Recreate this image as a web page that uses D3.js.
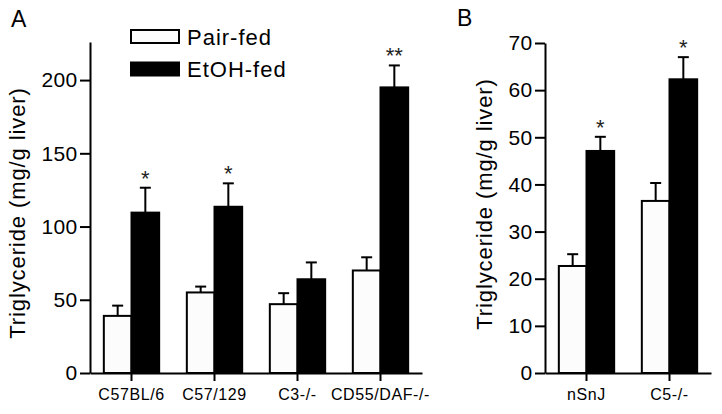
<!DOCTYPE html>
<html>
<head>
<meta charset="utf-8">
<script src="https://cdn.jsdelivr.net/npm/d3@7"></script>
<style>
  body { margin: 0; background: #fff; }
  svg { display: block; font-family: "Liberation Sans", Arial, sans-serif; }
  .axis path, .axis line { stroke: #000; stroke-width: 2; }
  .axis text { fill: #000; font-family: "Liberation Sans", Arial, sans-serif; }
</style>
</head>
<body>
<svg id="chart" width="722" height="414"></svg>
<script>
"use strict";

const keys = ["Pair-fed", "EtOH-fed"];

// Panel A
const strainsA = ["C57BL/6", "C57/129", "C3-/-", "CD55/DAF-/-"];
const pairA = [39, 55, 47, 70];
const pairErrA = [7, 4, 7.5, 9];
const etohA = [109.5, 113.5, 64, 195];
const etohErrA = [17, 16, 11.5, 15];
const starsA = ["*", "*", "", "**"];
const ticksA = [0, 50, 100, 150, 200];

// Panel B
const strainsB = ["nSnJ", "C5-/-"];
const pairB = [22.7, 36.5];
const pairErrB = [2.5, 3.8];
const etohB = [47.1, 62.3];
const etohErrB = [3, 4.7];
const starsB = ["*", "*"];
const ticksB = [0, 10, 20, 30, 40, 50, 60, 70];

const svg = d3.select("#chart");
const fills = { "Pair-fed": "#fcfcfc", "EtOH-fed": "#000" };

function drawPanel(arg) {
  const { strains, pair, pairErr, etoh, etohErr, stars, ticks, yMax, xRange, yRange, titleX, titleY } = arg;

  const rows = strains.map((s, i) => ({
    strain: s,
    values: [
      { key: keys[0], v: pair[i], e: pairErr[i] },
      { key: keys[1], v: etoh[i], e: etohErr[i] },
    ],
    star: stars[i],
  }));

  const x0 = d3.scaleBand().domain(strains).range(xRange);
  const x1 = d3.scaleBand().domain(keys).range([0, x0.bandwidth()]).paddingOuter(0.5);
  const y = d3.scaleLinear().domain([0, yMax]).range(yRange);

  const g = svg.append("g");

  const groups = g.selectAll(".grp")
    .data(rows)
    .join("g")
    .attr("class", "grp")
    .attr("transform", (d) => `translate(${x0(d.strain)},0)`);

  // error bars first so bar outline sits on top
  groups.selectAll(".err")
    .data((d) => d.values)
    .join("g")
    .attr("class", "err")
    .each(function (d) {
      const cx = x1(d.key) + x1.bandwidth() / 2;
      const el = d3.select(this);
      el.append("line")
        .attr("x1", cx).attr("x2", cx)
        .attr("y1", y(d.v)).attr("y2", y(d.v + d.e))
        .attr("stroke", "#000").attr("stroke-width", 2);
      el.append("line")
        .attr("x1", cx - 5.5).attr("x2", cx + 5.5)
        .attr("y1", y(d.v + d.e)).attr("y2", y(d.v + d.e))
        .attr("stroke", "#000").attr("stroke-width", 2);
    });

  groups.selectAll("rect")
    .data((d) => d.values)
    .join("rect")
    .attr("x", (d) => x1(d.key))
    .attr("width", x1.bandwidth())
    .attr("y", (d) => y(d.v))
    .attr("height", (d) => y(0) - y(d.v))
    .attr("fill", (d) => fills[d.key])
    .attr("stroke", "#000")
    .attr("stroke-width", 2);

  groups.append("text")
    .attr("x", x1(keys[1]) + x1.bandwidth() / 2)
    .attr("y", (d) => y(d.values[1].v + d.values[1].e) - 2)
    .attr("text-anchor", "middle")
    .attr("font-size", 22)
    .attr("fill", "#222")
    .text((d) => d.star);

  const yAxis = g.append("g")
    .attr("class", "axis")
    .attr("transform", `translate(${xRange[0]},0)`)
    .call(d3.axisLeft(y).tickValues(ticks).tickSize(10).tickPadding(2.5).tickSizeOuter(0));
  yAxis.selectAll("text").attr("font-size", 21).attr("letter-spacing", 0.3);

  const xAxis = g.append("g")
    .attr("class", "axis")
    .attr("transform", `translate(0,${yRange[0]})`)
    .call(d3.axisBottom(x0).tickSize(8).tickPadding(8).tickSizeOuter(0));
  xAxis.selectAll("text").attr("font-size", 16).attr("letter-spacing", 0.6);

  g.append("text")
    .attr("transform", `translate(${titleX},${titleY}) rotate(-90)`)
    .attr("text-anchor", "middle")
    .attr("font-size", 22)
    .attr("letter-spacing", 0.9)
    .text("Triglyceride (mg/g liver)");
}

drawPanel({
  strains: strainsA, pair: pairA, pairErr: pairErrA, etoh: etohA, etohErr: etohErrA,
  stars: starsA, ticks: ticksA, yMax: 226,
  xRange: [90, 422], yRange: [373, 42], titleX: 25, titleY: 213,
});

drawPanel({
  strains: strainsB, pair: pairB, pairErr: pairErrB, etoh: etohB, etohErr: etohErrB,
  stars: starsB, ticks: ticksB, yMax: 70,
  xRange: [545, 711], yRange: [373, 43], titleX: 492, titleY: 204,
});

// panel letters
svg.append("text").attr("x", 11).attr("y", 27).attr("font-size", 23).text("A");
svg.append("text").attr("x", 457).attr("y", 26).attr("font-size", 23).text("B");

// legend
const legend = svg.append("g").selectAll("g")
  .data(keys)
  .join("g")
  .attr("transform", (d, i) => `translate(131,${30 + i * 32.5})`);
legend.append("rect")
  .attr("width", 48).attr("height", 13)
  .attr("fill", (d) => fills[d])
  .attr("stroke", "#000").attr("stroke-width", 2);
legend.append("text")
  .attr("x", 56).attr("y", 14.5)
  .attr("font-size", 22)
  .attr("letter-spacing", 1)
  .text((d) => d);
</script>
</body>
</html>
